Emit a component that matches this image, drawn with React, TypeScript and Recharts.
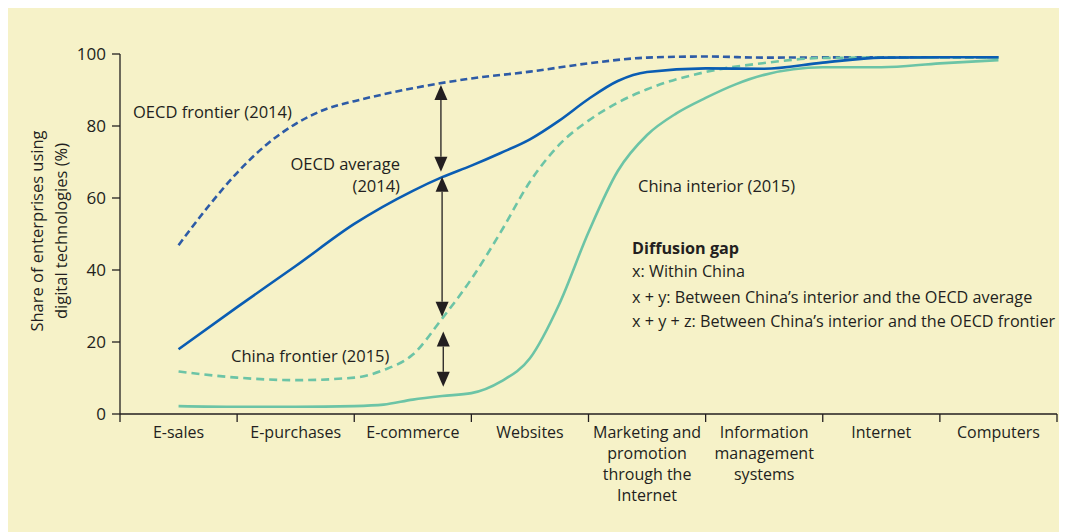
import React from "react";
import { LineChart, Line, XAxis, YAxis, ReferenceLine } from "recharts";

// categories on the x axis (one band each)
const categories: string[][] = [
  ["E-sales"],
  ["E-purchases"],
  ["E-commerce"],
  ["Websites"],
  ["Marketing and", "promotion", "through the", "Internet"],
  ["Information", "management", "systems"],
  ["Internet"],
  ["Computers"],
];

// each curve at its own category positions
const oecdFrontierX = [0, 0.25, 0.5, 0.75, 1, 1.25, 1.5, 1.75, 2, 2.5, 3, 3.5, 4, 4.5, 5, 6, 7];
const oecdFrontier = [46.9, 57.5, 67.0, 74.8, 80.6, 84.6, 86.9, 88.8, 90.5, 93.2, 95.1, 97.4, 99.0, 99.3, 99.0, 99.1, 99.1];

const oecdAverageX = [0, 0.5, 1, 1.5, 2, 2.25, 2.5, 2.75, 3, 3.25, 3.5, 3.75, 4, 4.5, 5, 5.5, 6, 6.5, 7];
const oecdAverage = [18.0, 29.7, 41.1, 52.8, 62.0, 65.8, 69.0, 72.5, 76.3, 81.5, 87.5, 92.5, 95.0, 96.0, 95.9, 97.6, 99.0, 99.1, 99.1];

const chinaFrontierX = [0, 0.5, 1, 1.5, 1.75, 2, 2.25, 2.5, 2.75, 3, 3.25, 3.5, 3.75, 4, 4.5, 5, 5.5, 6, 7];
const chinaFrontier = [11.8, 10.1, 9.4, 10.1, 12.2, 16.5, 26.5, 37.5, 50.5, 64.5, 74.8, 81.5, 86.5, 90.2, 95.0, 97.5, 98.9, 99.0, 99.0];

const chinaInteriorX = [0, 0.5, 1, 1.5, 1.75, 2, 2.25, 2.5, 2.75, 3, 3.25, 3.5, 3.75, 4, 4.25, 4.5, 4.75, 5, 5.5, 6, 6.5, 7];
const chinaInterior = [2.2, 2.0, 2.0, 2.2, 2.6, 4.0, 5.0, 5.8, 9.0, 15.5, 30.5, 50.5, 67.5, 77.5, 83.5, 87.8, 91.5, 94.2, 96.3, 96.3, 97.4, 98.3];

const yTicks = [0, 20, 40, 60, 80, 100];

// gap arrows: x position and the two ends
const gapArrows = [
  { name: "z", x: 2.24, from: 91.4, to: 67.3 },
  { name: "y", x: 2.25, from: 65.9, to: 27.0 },
  { name: "x", x: 2.26, from: 22.9, to: 7.6 },
];

const toRows = (xs: number[], ys: number[]) => xs.map((x, i) => ({ x, v: ys[i] }));

const BG = "#f6f2c8";
const INK = "#231f20";
const DARK_BLUE = "#2d5ba6";
const BLUE = "#0a5db3";
const TEAL = "#6cc4a6";
const FONT = "'Open Sans', 'Noto Sans', sans-serif";

const W = 1059;
const H = 524;
const LEFT = 112;
const RIGHT = 10;
const BAND = (W - LEFT - RIGHT) / categories.length;

const CategoryTick = (props: any) => {
  const { x, y, payload } = props;
  const idx = payload.value as number;
  const lines = categories[idx] || [];
  return (
    <g>
      <line x1={x - BAND / 2} x2={x - BAND / 2} y1={y} y2={y + 8} stroke={INK} strokeWidth={1.3} />
      {idx === categories.length - 1 && (
        <line x1={x + BAND / 2} x2={x + BAND / 2} y1={y} y2={y + 8} stroke={INK} strokeWidth={1.3} />
      )}
      <text x={x} y={y + 24} textAnchor="middle" fill={INK} fontSize={16} fontFamily={FONT}>
        {lines.map((l, i) => (
          <tspan key={i} x={x} dy={i === 0 ? 0 : 21}>
            {l}
          </tspan>
        ))}
      </text>
    </g>
  );
};

const ArrowShape = (props: any) => {
  const { x1, y1, x2, y2 } = props;
  const top = Math.min(y1, y2);
  const bot = Math.max(y1, y2);
  const hw = 6.5;
  const hh = 15;
  return (
    <g>
      <line x1={x1} x2={x2} y1={top + hh} y2={bot - hh} stroke={INK} strokeWidth={1.3} />
      <polygon points={`${x1},${top} ${x1 - hw},${top + hh} ${x1 + hw},${top + hh}`} fill={INK} />
      <polygon points={`${x2},${bot} ${x2 - hw},${bot - hh} ${x2 + hw},${bot - hh}`} fill={INK} />
    </g>
  );
};

const txt = { fill: INK, fontSize: 16.5, fontFamily: FONT } as const;
const gapTxt = { ...txt, fontSize: 16.2 };

export default function App() {
  return (
    <div style={{ position: "relative", width: W, height: H, background: BG }}>
      <LineChart width={W} height={H} margin={{ top: 46, right: RIGHT, left: 0, bottom: 0 }}>
        <XAxis
          dataKey="x"
          type="number"
          domain={[-0.5, 7.5]}
          ticks={[0, 1, 2, 3, 4, 5, 6, 7]}
          interval={0}
          height={118}
          tickLine={false}
          tickSize={0}
          tickMargin={0}
          stroke={INK}
          strokeWidth={1.3}
          tick={<CategoryTick />}
          allowDuplicatedCategory={false}
        />
        <YAxis
          type="number"
          domain={[0, 100]}
          ticks={yTicks}
          width={LEFT}
          tickSize={8}
          tickMargin={6}
          stroke={INK}
          strokeWidth={1.3}
          tick={{ fill: INK, fontSize: 17, fontFamily: FONT }}
        />
        <Line
          data={toRows(oecdFrontierX, oecdFrontier)}
          type="monotone"
          dataKey="v"
          stroke={DARK_BLUE}
          strokeWidth={2.6}
          strokeDasharray="7 4"
          dot={false}
          isAnimationActive={false}
        />
        <Line
          data={toRows(chinaFrontierX, chinaFrontier)}
          type="monotone"
          dataKey="v"
          stroke={TEAL}
          strokeWidth={2.6}
          strokeDasharray="8 5"
          dot={false}
          isAnimationActive={false}
        />
        <Line
          data={toRows(chinaInteriorX, chinaInterior)}
          type="monotone"
          dataKey="v"
          stroke={TEAL}
          strokeWidth={2.6}
          dot={false}
          isAnimationActive={false}
        />
        <Line
          data={toRows(oecdAverageX, oecdAverage)}
          type="monotone"
          dataKey="v"
          stroke={BLUE}
          strokeWidth={2.6}
          dot={false}
          isAnimationActive={false}
        />
        {gapArrows.map((a) => (
          <ReferenceLine
            key={a.name}
            segment={[
              { x: a.x, y: a.from },
              { x: a.x, y: a.to },
            ]}
            shape={<ArrowShape />}
          />
        ))}
      </LineChart>
      <svg
        width={W}
        height={H}
        style={{ position: "absolute", left: 0, top: 0, pointerEvents: "none", overflow: "visible" }}
      >
        <text transform="translate(35 223) rotate(-90)" textAnchor="middle" {...txt}>
          <tspan x={0} dy={0}>Share of enterprises using</tspan>
          <tspan x={0} dy={24}>digital technologies (%)</tspan>
        </text>
        <text x={125} y={110} {...txt}>OECD frontier (2014)</text>
        <text x={392} y={162} textAnchor="end" {...txt}>OECD average</text>
        <text x={392} y={184} textAnchor="end" {...txt}>(2014)</text>
        <text x={223} y={354} {...txt}>China frontier (2015)</text>
        <text x={630} y={184} {...txt}>China interior (2015)</text>
        <text x={624} y={246} {...gapTxt} fontWeight="bold">Diffusion gap</text>
        <text x={624} y={269} {...gapTxt}>x: Within China</text>
        <text x={624} y={295} {...gapTxt}>x + y: Between China’s interior and the OECD average</text>
        <text x={624} y={319} {...gapTxt}>x + y + z: Between China’s interior and the OECD frontier</text>
      </svg>
    </div>
  );
}
